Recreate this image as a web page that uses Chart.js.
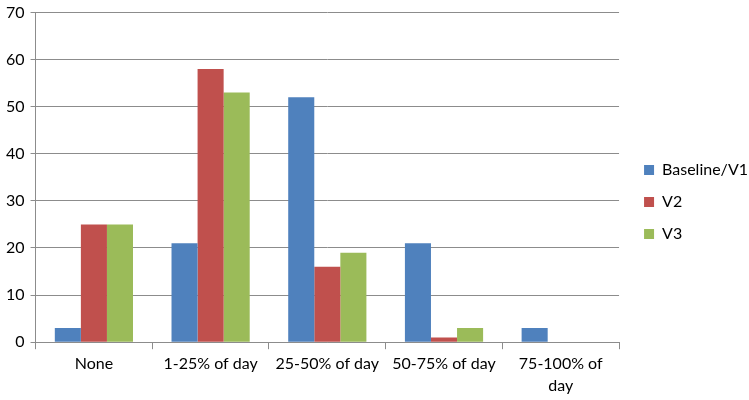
<!DOCTYPE html>
<html>
<head>
<meta charset="utf-8">
<script src="https://cdn.jsdelivr.net/npm/chart.js@4"></script>
<style>
  html, body { margin: 0; padding: 0; background: #fff; }
  #wrap { width: 749px; height: 400px; position: relative; }
</style>
</head>
<body>
<div id="wrap"><canvas id="barChart"></canvas></div>
<script>
// data
const categories = ["None", "1-25% of day", "25-50% of day", "50-75% of day", ["75-100% of", "day"]];
const baseline = [3, 21, 52, 21, 3];
const v2 = [25, 58, 16, 1, 0];
const v3 = [25, 53, 19, 3, 0];
const yTicks = [0, 10, 20, 30, 40, 50, 60, 70];

const gridColor = "#8c8c8c";
const fontFamily = "Lato, 'Open Sans', sans-serif";

// nudge the legend a little away from the plot, like the original
const legendGap = {
    id: "legendGap",
    afterLayout(chart) {
        chart.legend.left += 9;
        chart.legend.right += 9;
        chart.legend.top += 2;
        chart.legend.bottom += 2;
    }
};

let ctx = document.getElementById("barChart").getContext("2d");

let barChart = new Chart(ctx, {
    type: "bar",
    data: {
        labels: categories,
        datasets: [
            { label: "Baseline/V1", data: baseline, backgroundColor: "#4f81bd" },
            { label: "V2", data: v2, backgroundColor: "#c0504d" },
            { label: "V3", data: v3, backgroundColor: "#9bbb59" }
        ]
    },
    plugins: [legendGap],
    options: {
        responsive: true,
        maintainAspectRatio: false,
        animation: false,
        categoryPercentage: 0.67,
        barPercentage: 1,
        layout: { padding: { top: 0, right: 0, left: 0, bottom: 0 } },
        plugins: {
            tooltip: { enabled: false },
            legend: {
                position: "right",
                labels: {
                    boxWidth: 10,
                    boxHeight: 10,
                    padding: 16,
                    color: "#000",
                    font: { family: fontFamily, size: 16 }
                }
            }
        },
        scales: {
            x: {
                grid: {
                    display: true,
                    offset: true,
                    drawOnChartArea: false,
                    color: gridColor,
                    tickLength: 7
                },
                border: { color: gridColor, width: 1 },
                ticks: {
                    color: "#000",
                    padding: 3,
                    maxRotation: 0,
                    autoSkip: false,
                    font: { family: fontFamily, size: 16, lineHeight: 1.4 }
                }
            },
            y: {
                min: 0,
                max: 70,
                afterBuildTicks: (axis) => { axis.ticks = yTicks.map(v => ({ value: v })); },
                grid: { color: gridColor, tickLength: 5 },
                border: { color: gridColor, width: 1 },
                ticks: {
                    color: "#000",
                    padding: 6,
                    font: { family: fontFamily, size: 16, lineHeight: 0.8 }
                }
            }
        }
    }
});
</script>
</body>
</html>
